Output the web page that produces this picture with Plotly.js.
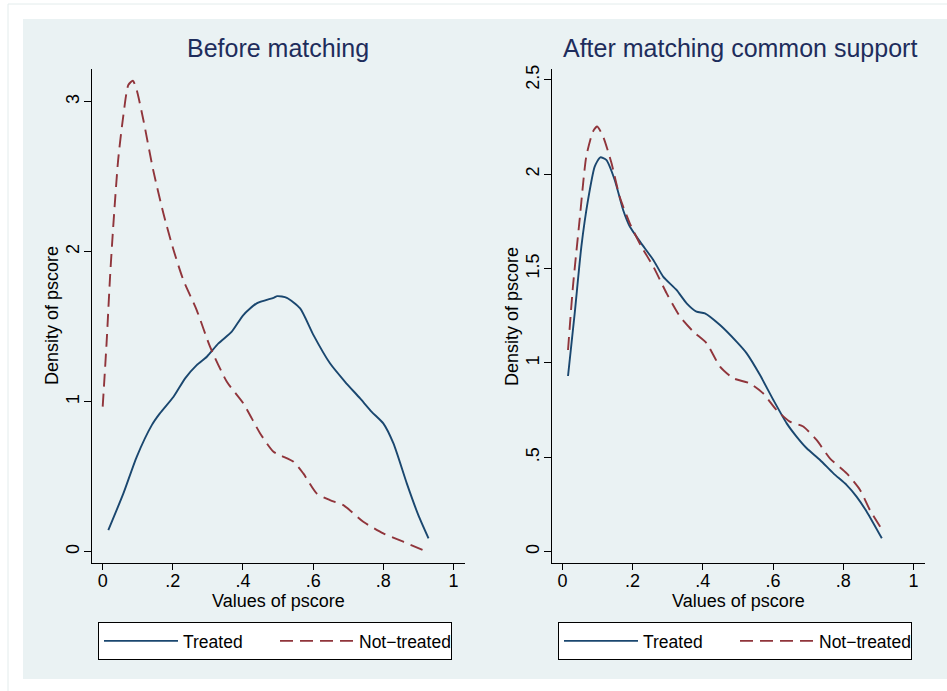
<!DOCTYPE html>
<html>
<head>
<meta charset="utf-8">
<script src="https://cdn.plot.ly/plotly-3.0.1.min.js"></script>
<style>html,body{margin:0;padding:0;background:#fff;}#chart{width:947px;height:691px;}</style>
</head>
<body>
<div id="chart"></div>
<script>
// ---- data ----
var leftTreatedX = [0.016,0.059,0.097,0.140,0.163,0.202,0.235,0.268,0.297,0.330,0.368,0.401,0.439,0.487,0.498,0.525,0.563,0.601,0.648,0.691,0.734,0.767,0.800,0.829,0.867,0.900,0.929];
var leftTreatedY = [0.144,0.389,0.633,0.844,0.922,1.033,1.156,1.244,1.300,1.389,1.467,1.578,1.656,1.693,1.704,1.693,1.622,1.444,1.256,1.133,1.022,0.933,0.856,0.722,0.456,0.244,0.089];
var leftControlX = [0.000,0.011,0.021,0.030,0.044,0.059,0.073,0.086,0.097,0.116,0.144,0.173,0.202,0.230,0.268,0.306,0.354,0.401,0.449,0.487,0.544,0.572,0.610,0.648,0.686,0.743,0.800,0.857,0.914];
var leftControlY = [0.967,1.389,1.833,2.167,2.611,2.911,3.111,3.140,3.078,2.878,2.544,2.256,2.011,1.811,1.611,1.367,1.133,0.989,0.789,0.667,0.600,0.522,0.389,0.344,0.311,0.200,0.122,0.067,0.011];
var rightTreatedX = [0.016,0.035,0.054,0.073,0.092,0.108,0.125,0.149,0.173,0.192,0.221,0.259,0.287,0.325,0.354,0.382,0.406,0.449,0.496,0.525,0.563,0.601,0.639,0.667,0.696,0.734,0.772,0.810,0.838,0.867,0.910];
var rightTreatedY = [0.931,1.263,1.617,1.864,2.041,2.090,2.076,1.970,1.811,1.723,1.643,1.546,1.458,1.387,1.316,1.272,1.263,1.201,1.113,1.051,0.936,0.804,0.680,0.610,0.548,0.486,0.415,0.353,0.292,0.212,0.071];
var rightControlX = [0.016,0.030,0.049,0.068,0.087,0.099,0.116,0.140,0.163,0.192,0.225,0.259,0.297,0.335,0.373,0.411,0.449,0.487,0.534,0.572,0.610,0.648,0.686,0.724,0.762,0.810,0.848,0.876,0.914];
var rightControlY = [1.069,1.405,1.758,2.094,2.226,2.253,2.200,2.058,1.882,1.740,1.617,1.511,1.369,1.246,1.166,1.104,0.981,0.919,0.892,0.839,0.751,0.689,0.663,0.592,0.495,0.415,0.327,0.221,0.106];

var xTickVals = [0,0.2,0.4,0.6,0.8,1];
var xTickText = ['0','.2','.4','.6','.8','1'];
var leftYTickVals = [0,1,2,3];
var leftYTickText = ['0','1','2','3'];
var rightYTickVals = [0,0.5,1,1.5,2,2.5];
var rightYTickText = ['0','.5','1','1.5','2','2.5'];
var seriesNames = ['Treated','Not\u2212treated'];
var panelTitles = ['Before matching','After matching common support'];
var axisTitleX = 'Values of pscore';
var axisTitleY = 'Density of pscore';

// ---- styling ----
var W = 947, H = 691;
var FONT = 'Liberation Sans, Arial, Helvetica, sans-serif';
var NAVY = '#1a476f', MAROON = '#90353b', BG = '#eaf2f3';
function px(x){return x/W;}
function py(y){return 1 - y/H;}

var treatedLine = {color: NAVY, width: 1.9, shape: 'spline', smoothing: 0.6};
var controlLine = {color: MAROON, width: 1.9, dash: '13px,7px', shape: 'spline', smoothing: 0.6};

var traces = [
  {x: leftTreatedX, y: leftTreatedY, type: 'scatter', mode: 'lines', name: seriesNames[0], line: treatedLine, xaxis: 'x', yaxis: 'y', legend: 'legend'},
  {x: leftControlX, y: leftControlY, type: 'scatter', mode: 'lines', name: seriesNames[1], line: controlLine, xaxis: 'x', yaxis: 'y', legend: 'legend'},
  {x: rightTreatedX, y: rightTreatedY, type: 'scatter', mode: 'lines', name: seriesNames[0], line: treatedLine, xaxis: 'x2', yaxis: 'y2', legend: 'legend2'},
  {x: rightControlX, y: rightControlY, type: 'scatter', mode: 'lines', name: seriesNames[1], line: controlLine, xaxis: 'x2', yaxis: 'y2', legend: 'legend2'}
];

function xAxis(domain, anchor){
  return {domain: domain, anchor: anchor, range: [-0.0305, 1.033], tickvals: xTickVals, ticktext: xTickText,
    showgrid: false, zeroline: false, showline: true, linecolor: '#000', linewidth: 1,
    ticks: 'outside', ticklen: 6, tickcolor: '#000', tickwidth: 1,
    tickfont: {family: FONT, size: 18, color: '#000'}, ticklabelstandoff: -5, fixedrange: true};
}
function yAxis(domain, anchor, range, vals, text){
  return {domain: domain, anchor: anchor, range: range, tickvals: vals, ticktext: text,
    showgrid: true, gridcolor: BG, gridwidth: 1, zeroline: false, showline: true, linecolor: '#000', linewidth: 1,
    ticks: 'outside', ticklen: 7, tickcolor: '#000', tickwidth: 1, tickangle: -90,
    tickfont: {family: FONT, size: 18, color: '#000'}, ticklabelstandoff: -2, fixedrange: true};
}

var yDom = [py(563), py(69)];
function legendCfg(x){
  return {x: px(x), y: py(622), xanchor: 'left', yanchor: 'top', orientation: 'h',
    bgcolor: '#fff', bordercolor: '#000', borderwidth: 1,
    font: {family: FONT, size: 17.5, color: '#000'}, itemwidth: 74, entrywidth: 87, entrywidthmode: 'pixels',
    itemclick: false, itemdoubleclick: false};
}

var titleFont = {family: FONT, size: 25, color: '#1e2d5c'};
var axFont = {family: FONT, size: 18, color: '#000'};
function ann(text, x, y, font, angle){
  return {text: text, xref: 'paper', yref: 'paper', x: px(x), y: py(y), xanchor: 'center', yanchor: 'middle',
    showarrow: false, font: font, textangle: angle || 0};
}

var layout = {
  width: W, height: H, margin: {l: 0, r: 0, t: 0, b: 0},
  paper_bgcolor: '#fff', plot_bgcolor: '#fff', showlegend: true,
  xaxis: xAxis([px(92), px(465)], 'y'),
  yaxis: yAxis(yDom, 'x', [-0.075, 3.218], leftYTickVals, leftYTickText),
  xaxis2: xAxis([px(551.7), px(925)], 'y2'),
  yaxis2: yAxis(yDom, 'x2', [-0.060, 2.558], rightYTickVals, rightYTickText),
  legend: legendCfg(98),
  legend2: legendCfg(558),
  shapes: [
    {type: 'rect', xref: 'paper', yref: 'paper', x0: px(8), x1: px(960), y0: py(700), y1: py(4), line: {color: '#e3ecec', width: 1}, fillcolor: '#fff', layer: 'below'},
    {type: 'rect', xref: 'paper', yref: 'paper', x0: px(23), x1: px(960), y0: py(679), y1: py(19), line: {width: 0}, fillcolor: BG, layer: 'below'}
  ],
  annotations: [
    ann(panelTitles[0], 278, 48, titleFont),
    ann(panelTitles[1], 740, 48, titleFont),
    ann(axisTitleX, 278, 601, axFont),
    ann(axisTitleX, 738, 601, axFont),
    ann(axisTitleY, 52, 316, axFont, -90),
    ann(axisTitleY, 512, 316, axFont, -90)
  ]
};

Plotly.newPlot('chart', traces, layout, {displayModeBar: false, staticPlot: true});
</script>
</body>
</html>
